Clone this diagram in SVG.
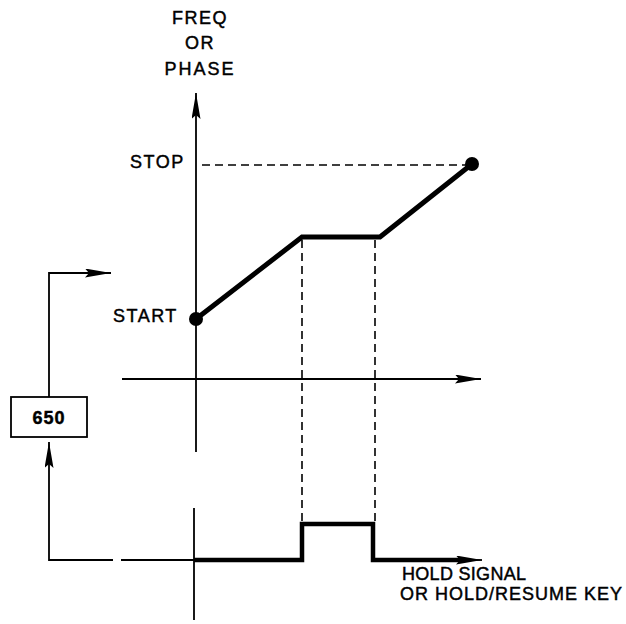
<svg xmlns="http://www.w3.org/2000/svg" width="626" height="624" viewBox="0 0 626 624">
<style>
text{font-family:"Liberation Sans",Arial,sans-serif;font-size:18px;fill:#000;stroke:#000;stroke-width:0.45}
.thin{fill:none;stroke:#000;stroke-width:1.8}
.thick{fill:none;stroke:#000;stroke-width:5}
.mid{fill:none;stroke:#000;stroke-width:4.5}
.dash{fill:none;stroke:#000;stroke-width:1.6;stroke-dasharray:8 5}
.arr{marker-end:url(#ah)}
</style>
<defs>
<marker id="ah" viewBox="0 0 26 9" refX="26" refY="4.5" markerWidth="26" markerHeight="9" markerUnits="userSpaceOnUse" orient="auto">
<path d="M0,0 L26,4.5 L0,9 L4,4.5 z" fill="#000"/>
</marker>
</defs>
<g id="labels">
<text x="200" y="24" text-anchor="middle" letter-spacing="1.5">FREQ</text>
<text x="200" y="49" text-anchor="middle" letter-spacing="1.5">OR</text>
<text x="200" y="75" text-anchor="middle" letter-spacing="2">PHASE</text>
<text x="130" y="168" letter-spacing="1.5">STOP</text>
<text x="113" y="322" letter-spacing="1.5">START</text>
<text x="402" y="580" letter-spacing="0.3">HOLD SIGNAL</text>
<text x="400" y="600" letter-spacing="1">OR HOLD/RESUME KEY</text>
</g>
<g id="box650">
<rect x="11" y="397" width="76" height="40" class="thin"/>
<text x="49" y="424" text-anchor="middle" font-weight="bold" letter-spacing="1">650</text>
</g>
<g id="connectors">
<line x1="196" y1="452" x2="196" y2="93" class="thin arr"/>
<line x1="122" y1="379" x2="481" y2="379" class="thin arr"/>
<line x1="194" y1="508" x2="194" y2="620" class="thin"/>
<polyline points="49,397 49,273 111,273" class="thin arr"/>
<polyline points="113,560 49,560 49,442" class="thin arr"/>
<line x1="121" y1="560" x2="194" y2="560" class="thin"/>
<line x1="202" y1="165" x2="466" y2="165" class="dash"/>
<line x1="302" y1="240" x2="302" y2="522" class="dash"/>
<line x1="375" y1="240" x2="375" y2="522" class="dash"/>
<polyline points="196,319 302,237 380,237 472,164" class="thick"/>
<circle cx="196" cy="319" r="7" fill="#000"/>
<circle cx="472" cy="164" r="7" fill="#000"/>
<polyline points="194,560 302,560 302,524 373,524 373,560 462,560" class="mid"/>
<line x1="455" y1="560" x2="482" y2="560" class="thin arr"/>
</g>
</svg>
